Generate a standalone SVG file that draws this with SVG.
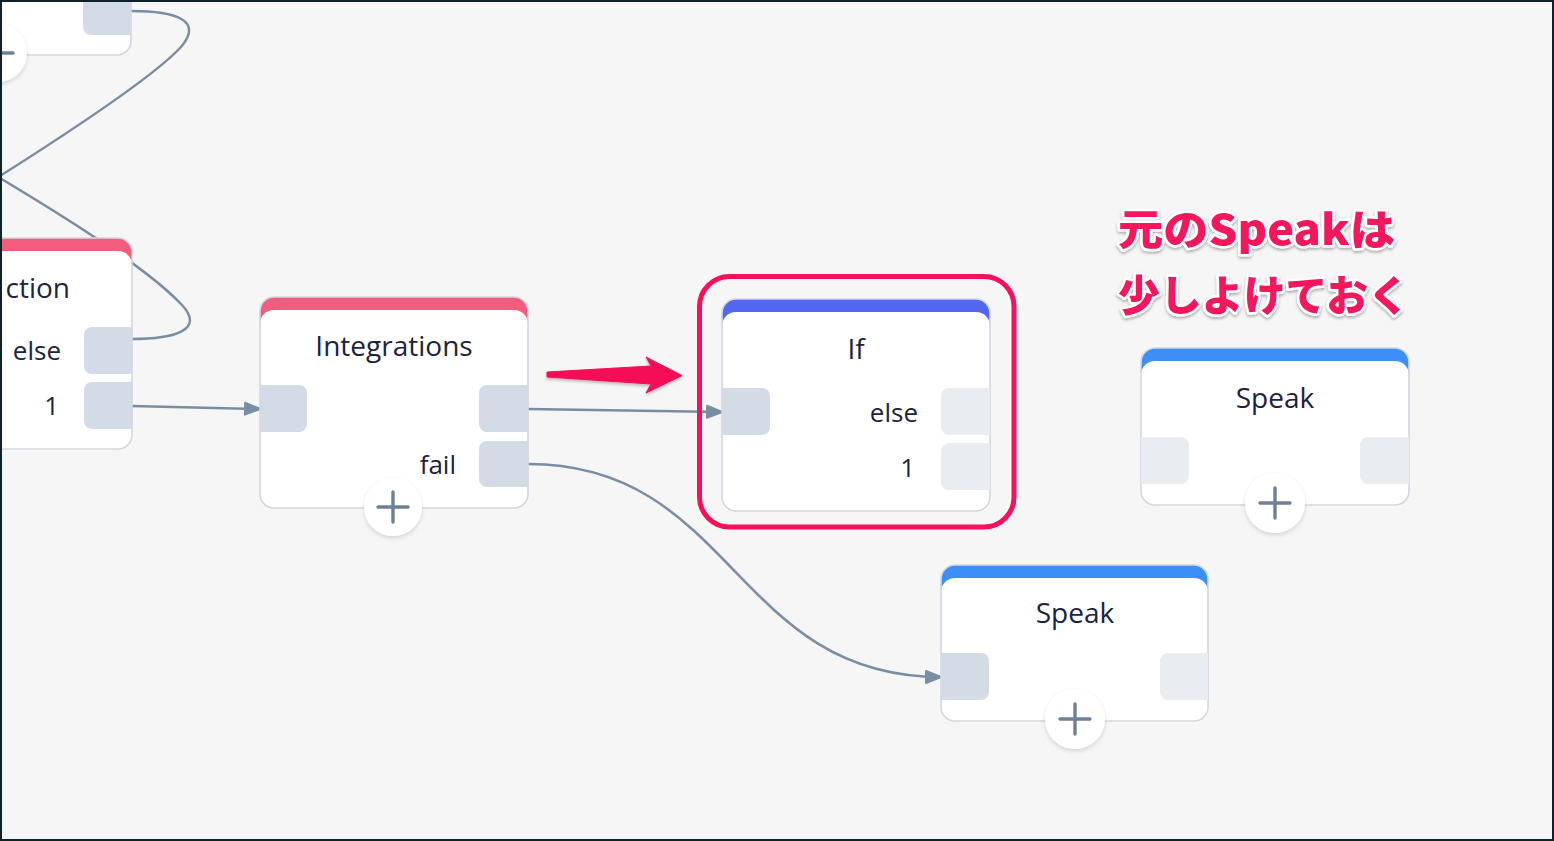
<svg xmlns="http://www.w3.org/2000/svg" width="1554" height="841" viewBox="0 0 1554 841">
<defs>
<style>
.node-bg{fill:#fff}
.node-border{fill:none;stroke:#d3d8df;stroke-width:1.6}
.port{fill:#d3dbe6}
.port-off{fill:#e9edf2}
.title{font-family:"Open Sans","Noto Sans",sans-serif;font-size:28px;fill:#1c2340;text-anchor:middle}
.label{font-family:"Open Sans","Noto Sans",sans-serif;font-size:26px;fill:#1c2340;text-anchor:end}
.conn{fill:none;stroke:#7a8ea3;stroke-width:2.5}
.plus-c{fill:#fff;filter:url(#sh)}
.plus{stroke:#6d8095;stroke-width:3.4;stroke-linecap:round}
.note{font-family:"Noto Sans CJK JP",sans-serif;font-weight:900;font-size:42px;fill:#f5145c;stroke:#fff;stroke-width:5;paint-order:stroke;stroke-linejoin:round;filter:url(#tsh)}
</style>
<filter id="sh" x="-30%" y="-30%" width="160%" height="160%">
<feDropShadow dx="0" dy="2" stdDeviation="2" flood-color="#000" flood-opacity="0.15"/>
</filter>
<filter id="tsh" x="-10%" y="-20%" width="120%" height="150%">
<feDropShadow dx="0" dy="2" stdDeviation="1.5" flood-color="#000" flood-opacity="0.3"/>
</filter>
<filter id="ash" x="-10%" y="-50%" width="120%" height="200%">
<feDropShadow dx="0" dy="2" stdDeviation="1.5" flood-color="#000" flood-opacity="0.25"/>
</filter>
<marker id="arr" markerUnits="userSpaceOnUse" markerWidth="20" markerHeight="18" refX="16" refY="7" orient="auto" overflow="visible">
<path d="M1,1 L16,7 L1,13 Z" fill="#7a8ea3" stroke="#7a8ea3" stroke-width="2" stroke-linejoin="round"/>
</marker>
</defs>

<rect x="0" y="0" width="1554" height="841" fill="#f6f6f6"/>

<g id="connectors">
<path class="conn" d="M131,11 C 175,11 205,20 180,48 C 150,80 60,138 0,176"/>
<path class="conn" d="M131,339 C 175,339 205,330 182,305 C 160,282 120,250 0,178"/>
<path class="conn" d="M132,406 L260,409" marker-end="url(#arr)"/>
<path class="conn" d="M528,409 L722,412" marker-end="url(#arr)"/>
<path class="conn" d="M528,464 C 734,464 734,677 941,677" marker-end="url(#arr)"/>
</g>

<g id="node-top">
<rect x="-140" y="-160" width="271" height="215" rx="14" class="node-bg"/>
<rect x="-140" y="-160" width="271" height="215" rx="14" class="node-border"/>
<path class="port" d="M131,-10 h-40 a8,8 0 0 0 -8,8 v29 a8,8 0 0 0 8,8 h40 z"/>
<circle cx="-2" cy="53" r="29" class="plus-c"/>
<path class="plus" d="M-17,53 H13 M-2,38 V68"/>
</g>

<g id="node-action">
<rect x="-140" y="238" width="272" height="211" rx="14" fill="#f35d7d"/>
<rect x="-140" y="251" width="272" height="198" rx="14" class="node-bg"/>
<rect x="-140" y="238" width="272" height="211" rx="14" class="node-border"/>
<text x="70" y="298" class="label" style="font-size:28px">ction</text>
<text x="61" y="360" class="label">else</text>
<text x="59" y="415" class="label">1</text>
<path class="port" d="M132,327 h-40 a8,8 0 0 0 -8,8 v31 a8,8 0 0 0 8,8 h40 z"/>
<path class="port" d="M132,382 h-40 a8,8 0 0 0 -8,8 v31 a8,8 0 0 0 8,8 h40 z"/>
</g>

<g id="node-integrations">
<rect x="260" y="297" width="268" height="211" rx="14" fill="#f35d7d"/>
<rect x="260" y="310" width="268" height="198" rx="14" class="node-bg"/>
<rect x="260" y="297" width="268" height="211" rx="14" class="node-border"/>
<text x="394" y="356" class="title">Integrations</text>
<text x="456" y="474" class="label">fail</text>
<path class="port" d="M260,385 h39 a8,8 0 0 1 8,8 v31 a8,8 0 0 1 -8,8 h-39 z"/>
<path class="port" d="M528,385 h-41 a8,8 0 0 0 -8,8 v31 a8,8 0 0 0 8,8 h41 z"/>
<path class="port" d="M528,441 h-41 a8,8 0 0 0 -8,8 v30 a8,8 0 0 0 8,8 h41 z"/>
<circle cx="393" cy="507" r="29" class="plus-c"/>
<path class="plus" d="M378,507 H408 M393,492 V522"/>
</g>

<g id="node-if">
<rect x="722" y="299" width="268" height="212" rx="14" fill="#5266f0"/>
<rect x="722" y="312" width="268" height="199" rx="14" class="node-bg"/>
<rect x="722" y="299" width="268" height="212" rx="14" class="node-border"/>
<text x="856" y="359" class="title">If</text>
<text x="918" y="422" class="label">else</text>
<text x="915" y="477" class="label">1</text>
<path class="port" d="M722,388 h40 a8,8 0 0 1 8,8 v31 a8,8 0 0 1 -8,8 h-40 z"/>
<path class="port-off" d="M990,388 h-41 a8,8 0 0 0 -8,8 v31 a8,8 0 0 0 8,8 h41 z"/>
<path class="port-off" d="M990,443 h-41 a8,8 0 0 0 -8,8 v31 a8,8 0 0 0 8,8 h41 z"/>
</g>

<g id="highlight">
<rect x="699.5" y="276.5" width="314.5" height="250.5" rx="30" fill="none" stroke="#fb0f5a" stroke-width="5"/>
</g>

<g id="red-arrow" filter="url(#ash)">
<path d="M547,372 L651,366 L646,357 L682,375.5 L646,393 L651,384 L547,377 Z" fill="#f50e57" stroke="#f50e57" stroke-width="1" stroke-linejoin="round"/>
</g>

<g id="node-speak-lower">
<rect x="941" y="565" width="267" height="156" rx="14" fill="#3b8ff7"/>
<rect x="941" y="578" width="267" height="143" rx="14" class="node-bg"/>
<rect x="941" y="565" width="267" height="156" rx="14" class="node-border"/>
<text x="1075" y="623" class="title">Speak</text>
<path class="port" d="M941,653 h40 a8,8 0 0 1 8,8 v31 a8,8 0 0 1 -8,8 h-40 z"/>
<path class="port-off" d="M1208,653 h-40 a8,8 0 0 0 -8,8 v31 a8,8 0 0 0 8,8 h40 z"/>
<circle cx="1075" cy="719" r="30" class="plus-c"/>
<path class="plus" d="M1060,719 H1090 M1075,704 V734"/>
</g>

<g id="node-speak-upper">
<rect x="1141" y="348" width="268" height="157" rx="14" fill="#3b8ff7"/>
<rect x="1141" y="361" width="268" height="144" rx="14" class="node-bg"/>
<rect x="1141" y="348" width="268" height="157" rx="14" class="node-border"/>
<text x="1275" y="408" class="title">Speak</text>
<path class="port-off" d="M1141,437 h40 a8,8 0 0 1 8,8 v31 a8,8 0 0 1 -8,8 h-40 z"/>
<path class="port-off" d="M1409,437 h-41 a8,8 0 0 0 -8,8 v31 a8,8 0 0 0 8,8 h41 z"/>
<circle cx="1275" cy="503" r="30" class="plus-c"/>
<path class="plus" d="M1260,503 H1290 M1275,488 V518"/>
</g>

<g id="note">
<text x="1118" y="245" class="note" textLength="277" lengthAdjust="spacingAndGlyphs">元のSpeakは</text>
<text x="1118" y="311" class="note" textLength="292" lengthAdjust="spacingAndGlyphs">少しよけておく</text>
</g>

<rect x="1" y="1" width="1552" height="839" fill="none" stroke="#0f2229" stroke-width="2"/>
</svg>
